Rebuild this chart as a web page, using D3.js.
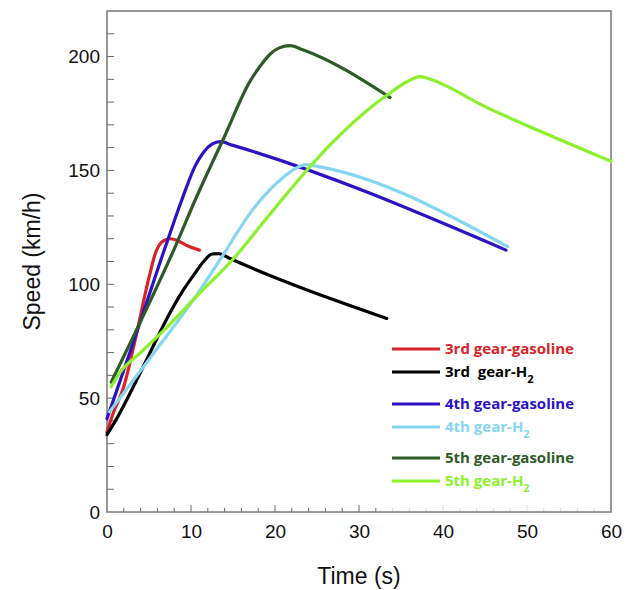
<!DOCTYPE html>
<html>
<head>
<meta charset="utf-8">
<script src="https://cdn.jsdelivr.net/npm/d3@7"></script>
<style>
  body { margin: 0; background: #fff; }
  svg { display: block; }
</style>
</head>
<body>
<svg width="633" height="590"></svg>
<script>
// data: [time (s), speed (km/h)]
const gear3Gasoline = [[0,35],[0.7,43],[2,55],[3.5,78],[5,103],[5.8,114],[6.5,118.5],[7.5,120],[8.5,119],[9.5,117],[11,115]];
const gear3H2 = [[0,34],[1,40],[3,54],[5,69],[7,84],[9,97],[10.5,105],[11.5,110],[12.5,113.3],[13.3,113.5],[14.5,111.5],[33.3,85]];
const gear4Gasoline = [[0,41],[3,73],[7,117],[9,138],[10.5,152],[11.5,158],[12.5,161.5],[13.5,162.6],[15,161],[47.5,115]];
const gear4H2 = [[0.3,44],[5,67],[11,97],[13.5,111],[17.4,133],[21,147],[22.5,151],[23.8,152.5],[25,151.8],[47.7,116.5]];
const gear5Gasoline = [[0.5,57],[3,76],[8.3,118],[10.5,137],[14,165],[17,189],[18.2,195.6],[19.4,201],[20.5,203.8],[21.8,204.8],[23.3,203],[33.7,182]];
const gear5H2 = [[0.5,55],[1.5,61],[4,70],[7.1,81],[11,96],[15,111],[19,129],[23.3,148],[26.5,161],[29.3,171],[31.5,178],[33.7,184],[35.5,188.5],[37.3,191.2],[38.5,190],[45,178],[52,166.5],[60,154]];

const seriesNames = ['3rd gear-gasoline', '3rd\u00a0 gear-H', '4th gear-gasoline', '4th gear-H', '5th gear-gasoline', '5th gear-H'];
const seriesSub = ['', '2', '', '2', '', '2'];
const seriesColors = ['#d8232a', '#000000', '#2b12c4', '#86d6f2', '#2e5a28', '#8cf02c'];
const seriesData = [gear3Gasoline, gear3H2, gear4Gasoline, gear4H2, gear5Gasoline, gear5H2];

const xTicks = [0, 10, 20, 30, 40, 50, 60];
const yTicks = [0, 50, 100, 150, 200];

const svg = d3.select('svg');
const margin = { top: 11, right: 22, bottom: 78, left: 107 };
const width = +svg.attr('width');
const height = +svg.attr('height');
const innerWidth = width - margin.left - margin.right;
const innerHeight = height - margin.top - margin.bottom;

const x = d3.scaleLinear().domain([0, 60]).range([0, innerWidth]);
const y = d3.scaleLinear().domain([0, 220]).range([innerHeight, 0]);

const g = svg.append('g').attr('transform', `translate(${margin.left},${margin.top})`);

// minor ticks, drawn inward
const xMinor = d3.range(2, 60, 2);
g.selectAll('.xminor').data(xMinor).enter().append('line')
    .attr('x1', d => x(d)).attr('x2', d => x(d))
    .attr('y1', innerHeight).attr('y2', d => innerHeight - (d % 10 === 0 ? 7 : 4))
    .attr('stroke', d => d <= 32 ? '#666' : '#ddd')
    .attr('stroke-width', 1);

const yMinor = d3.range(10, 220, 10);
g.selectAll('.yminor').data(yMinor).enter().append('line')
    .attr('x1', 0).attr('x2', 7)
    .attr('y1', d => y(d)).attr('y2', d => y(d))
    .attr('stroke', '#666')
    .attr('stroke-width', 1);

// tick labels
const xAxis = d3.axisBottom(x).tickValues(xTicks).tickSize(0).tickPadding(13);
g.append('g').attr('transform', `translate(0,${innerHeight})`).call(xAxis)
    .attr('font-family', 'Liberation Sans, Arial, sans-serif')
    .attr('font-size', 19)
    .call(a => a.select('.domain').remove())
    .selectAll('text').attr('fill', '#111');

const yAxis = d3.axisLeft(y).tickValues(yTicks).tickSize(0).tickPadding(7);
g.append('g').call(yAxis)
    .attr('font-family', 'Liberation Sans, Arial, sans-serif')
    .attr('font-size', 19)
    .call(a => a.select('.domain').remove())
    .selectAll('text').attr('fill', '#111');

// frame
g.append('rect')
    .attr('width', innerWidth).attr('height', innerHeight)
    .attr('fill', 'none').attr('stroke', '#777').attr('stroke-width', 1.5);

// curves
const line = d3.line()
    .x(d => x(d[0]))
    .y(d => y(d[1]))
    .curve(d3.curveMonotoneX);

g.selectAll('.curve').data(seriesData).enter().append('path')
    .attr('d', line)
    .attr('fill', 'none')
    .attr('stroke', (d, i) => seriesColors[i])
    .attr('stroke-width', 3.2)
    .attr('stroke-linejoin', 'round')
    .attr('stroke-linecap', 'round');

// legend
const legendY = [349, 372, 404, 427, 458, 481];
const legend = svg.append('g')
    .attr('font-family', 'Open Sans, sans-serif')
    .attr('font-weight', 700)
    .attr('font-size', 15);
seriesNames.forEach((name, i) => {
    legend.append('line')
        .attr('x1', 392).attr('x2', 440)
        .attr('y1', legendY[i]).attr('y2', legendY[i])
        .attr('stroke', seriesColors[i]).attr('stroke-width', 3);
    const t = legend.append('text')
        .attr('x', 445).attr('y', legendY[i] + 5)
        .attr('fill', seriesColors[i])
        .text(name);
    if (seriesSub[i]) {
        t.append('tspan')
            .attr('dy', 6)
            .attr('font-size', 11)
            .text(seriesSub[i]);
    }
});

// axis titles
svg.append('text')
    .attr('x', margin.left + innerWidth / 2)
    .attr('y', 584)
    .attr('text-anchor', 'middle')
    .attr('font-family', 'Liberation Sans, Arial, sans-serif')
    .attr('font-size', 23)
    .attr('fill', '#111')
    .text('Time (s)');

svg.append('text')
    .attr('transform', `translate(40,${margin.top + innerHeight / 2}) rotate(-90)`)
    .attr('text-anchor', 'middle')
    .attr('font-family', 'Liberation Sans, Arial, sans-serif')
    .attr('font-size', 23)
    .attr('fill', '#111')
    .text('Speed (km/h)');
</script>
</body>
</html>
